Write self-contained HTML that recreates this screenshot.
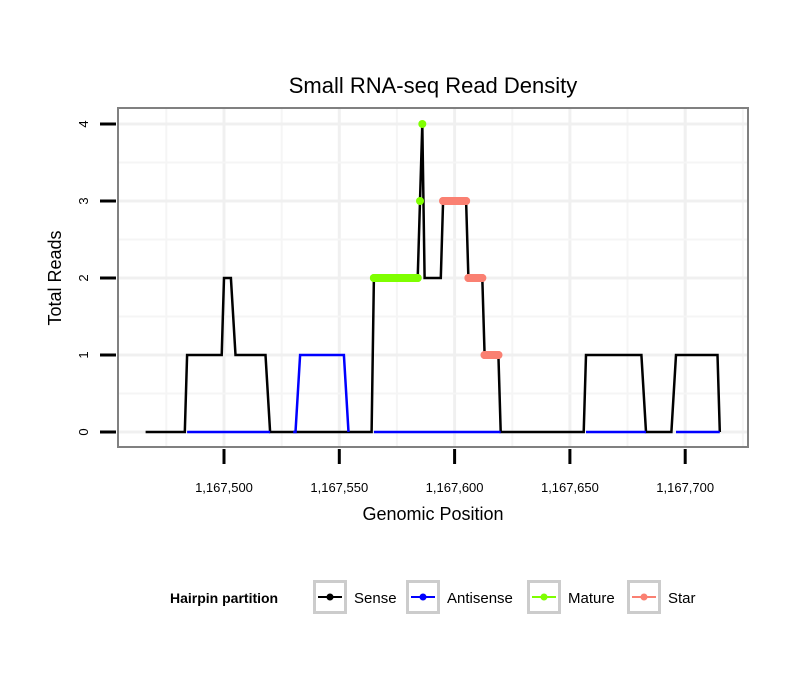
<!DOCTYPE html>
<html><head><meta charset="utf-8"><style>
body{margin:0;background:#fff;font-family:"Liberation Sans",sans-serif}
</style></head><body>
<svg id="c" width="810" height="690" xmlns="http://www.w3.org/2000/svg" font-family="Liberation Sans, sans-serif">
<text x="433" y="93" font-size="22" text-anchor="middle">Small RNA-seq Read Density</text>
<rect x="118" y="108" width="630" height="339" fill="#fff"/>
<g id="grid"></g>
<g id="series"></g>
<rect x="118" y="108" width="630" height="339" fill="none" stroke="#808080" stroke-width="2"/>
<g id="axes"></g>
<text x="433" y="520" font-size="18" text-anchor="middle">Genomic Position</text>
<text transform="translate(61,278) rotate(-90)" font-size="18" text-anchor="middle">Total Reads</text>
<g id="legend">
<text x="170" y="603" font-size="14" font-weight="bold">Hairpin partition</text>
</g>
</svg>
<script>
const xTicks=[1167500,1167550,1167600,1167650,1167700];
const xTickLabels=["1,167,500","1,167,550","1,167,600","1,167,650","1,167,700"];
const yTicks=[0,1,2,3,4];
const sensePos=[1167466,1167483,1167484,1167499,1167500,1167503,1167505,1167518,1167520,1167564,1167565,1167584,1167585,1167586,1167587,1167594,1167595,1167605,1167606,1167612,1167613,1167619,1167620,1167656,1167657,1167681,1167683,1167694,1167696,1167714,1167715];
const senseVal=[0,0,1,1,2,2,1,1,0,0,2,2,3,4,2,2,3,3,2,2,1,1,0,0,1,1,0,0,1,1,0];
const antiPos=[1167484,1167520,null,1167530,1167531,1167533,1167552,1167554,null,1167565,1167620,null,1167657,1167683,null,1167696,1167715];
const antiVal=[0,0,null,0,0,1,1,0,null,0,0,null,0,0,null,0,0];
const maturePos=[1167565,1167584,null,1167585,null,1167586];
const matureVal=[2,2,null,3,null,4];
const starPos=[1167595,1167605,null,1167606,1167612,null,1167613,1167619];
const starVal=[3,3,null,2,2,null,1,1];
const NS="http://www.w3.org/2000/svg";
const xs=v=>224+(v-1167500)*2.306;
const ys=v=>432-v*77;
function el(t,a,p){const e=document.createElementNS(NS,t);for(const k in a)e.setAttribute(k,a[k]);p.appendChild(e);return e;}
const grid=document.getElementById('grid');
[1167475,1167525,1167575,1167625,1167675,1167725].forEach(v=>{const l=el('line',{x1:xs(v),x2:xs(v),y1:109,y2:446,stroke:'#f5f5f5','stroke-width':2},grid);

});
xTicks.forEach(v=>{const l=el('line',{x1:xs(v),x2:xs(v),y1:109,y2:446,stroke:'#f0f0f0','stroke-width':3},grid);

});
[0.5,1.5,2.5,3.5].forEach(v=>{const l=el('line',{x1:119,x2:747,y1:ys(v),y2:ys(v),stroke:'#f5f5f5','stroke-width':2},grid);

});
yTicks.forEach(v=>{const l=el('line',{x1:119,x2:747,y1:ys(v),y2:ys(v),stroke:'#f0f0f0','stroke-width':3},grid);

});
function pathD(P,V){let d='',m=true;for(let i=0;i<P.length;i++){if(P[i]===null){m=true;continue;}d+=(m?'M':'L')+xs(P[i]).toFixed(1)+' '+ys(V[i]).toFixed(1)+' ';m=false;}return d;}
function dots(P,V,col,r,name){for(let i=0;i<P.length;i++){if(P[i]===null)continue;const c=el('circle',{cx:xs(P[i]),cy:ys(V[i]),r:r,fill:col},ser);

}}
const ser=document.getElementById('series');
const s1=el('path',{d:pathD(sensePos,senseVal),fill:'none',stroke:'#000','stroke-width':2.5},ser);


const s2=el('path',{d:pathD(antiPos,antiVal),fill:'none',stroke:'#0000ff','stroke-width':2.5},ser);


const s3=el('path',{d:pathD(maturePos,matureVal),fill:'none',stroke:'#7fff00','stroke-width':8,'stroke-linecap':'round'},ser);


dots(maturePos,matureVal,'#7fff00',4,'mature-point');
const s4=el('path',{d:pathD(starPos,starVal),fill:'none',stroke:'#fa8072','stroke-width':8,'stroke-linecap':'round'},ser);


dots(starPos,starVal,'#fa8072',4,'star-point');
const ax=document.getElementById('axes');
xTicks.forEach((v,i)=>{const t=el('line',{x1:xs(v),x2:xs(v),y1:449,y2:464,stroke:'#000','stroke-width':3},ax);


const tx=el('text',{x:xs(v),y:492,'font-size':13,'text-anchor':'middle'},ax);tx.textContent=xTickLabels[i];

});
yTicks.forEach(v=>{const t=el('line',{x1:100,x2:116,y1:ys(v),y2:ys(v),stroke:'#000','stroke-width':3},ax);


const tx=el('text',{transform:`translate(88,${ys(v)}) rotate(-90)`,'font-size':13,'text-anchor':'middle'},ax);tx.textContent=v;

});
const leg=document.getElementById('legend');
const names=["Sense","Antisense","Mature","Star"],cols=["#000","#0000ff","#7fff00","#fa8072"],kx=[313,406,527,627];
names.forEach((n,i)=>{const g=el('g',{},leg);


el('rect',{x:kx[i]+1.5,y:581.5,width:31,height:31,fill:'#fff',stroke:'#cccccc','stroke-width':3},g);
el('line',{x1:kx[i]+5,x2:kx[i]+29,y1:597,y2:597,stroke:cols[i],'stroke-width':2},g);
el('circle',{cx:kx[i]+17,cy:597,r:3.5,fill:cols[i]},g);
const t=el('text',{x:kx[i]+41,y:603,'font-size':15},g);t.textContent=n;});
</script>
</body></html>
